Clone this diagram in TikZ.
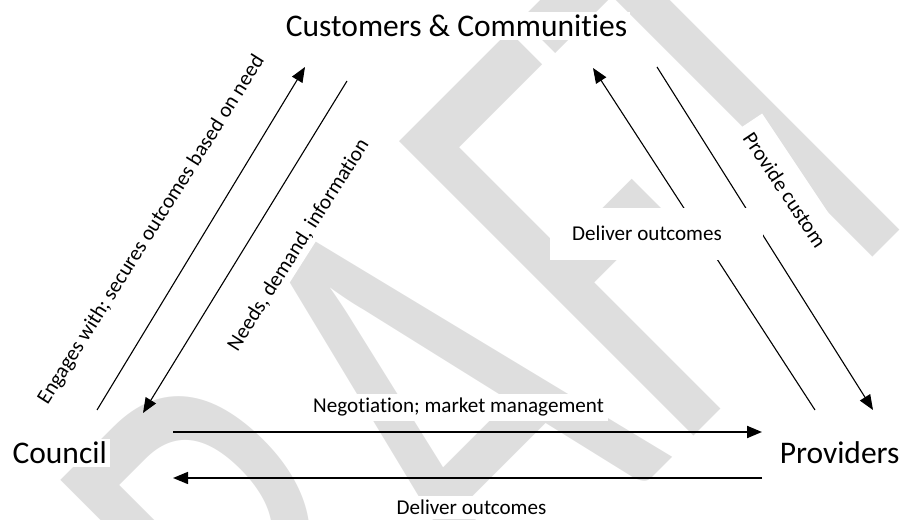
\documentclass[tikz,border=0pt]{standalone}
\usepackage{fontspec}
\setmainfont{Carlito}[Ligatures={NoCommon}]
\usetikzlibrary{arrows.meta}
\definecolor{wmgray}{RGB}{222,222,222}

\begin{document}
\begin{tikzpicture}[->,>={Triangle[length=15bp,width=12bp]},x=1bp,y=1bp,line width=1.1bp]
\tikzstyle{big}=[fill=white,inner sep=3bp,font=\fontsize{31.5bp}{36bp}\selectfont]
\tikzstyle{small}=[fill=white,inner sep=4bp,font=\fontsize{21.1bp}{25bp}\selectfont]

\useasboundingbox (0,0) rectangle (905,520);
\begin{scope}
\clip (0,0) rectangle (905,520);
\node[anchor=base,rotate=45,xscale=0.66,text=wmgray,inner sep=0pt,font=\fontsize{649bp}{649bp}\selectfont] (wm) at (554,-56) {DRAFT};
\end{scope}

% arrow ends
\coordinate (e1) at (97,110);
\coordinate (e2) at (305,453);
\coordinate (n1) at (347,439);
\coordinate (n2) at (143,107);
\coordinate (d1) at (815,110);
\coordinate (d2) at (593,452);
\coordinate (p1) at (657,453);
\coordinate (p2) at (873,110);
\coordinate (m1) at (173,88);
\coordinate (m2) at (762,88);
\coordinate (b1) at (762,42);
\coordinate (b2) at (173,42);

\path
(e1) edge (e2)
(n1) edge (n2)
(d1) edge (d2)
(p1) edge (p2)
(m1) edge[line width=2bp] (m2)
(b1) edge[line width=1.5bp] (b2)
;

\node[big,anchor=base] (C) at (456.5,483) {Customers \& Communities};
\node[big,anchor=base west] (K) at (9,56) {Council};
\node[big,anchor=base east] (P) at (903,56) {Providers};

\node[small,rotate=57.8] (eng) at (151.5,290) {Engages with; secures outcomes based on need};
\node[small,rotate=57.6] (need) at (298.5,275) {Needs, demand, information};
\node[small,rotate=-56.3,inner ysep=16bp,inner xsep=10bp] (prov) at (785,330) {Provide custom};
\node[fill=white,minimum width=213bp,minimum height=52bp] (dbox) at (656.5,286) {};
\node[small,fill=none] (dmid) at (647,287) {Deliver outcomes};
\node[small,anchor=base] (neg) at (458.5,107) {Negotiation; market management};
\node[small,anchor=base] (dlv) at (471.5,5) {Deliver outcomes};
\end{tikzpicture}
\end{document}
